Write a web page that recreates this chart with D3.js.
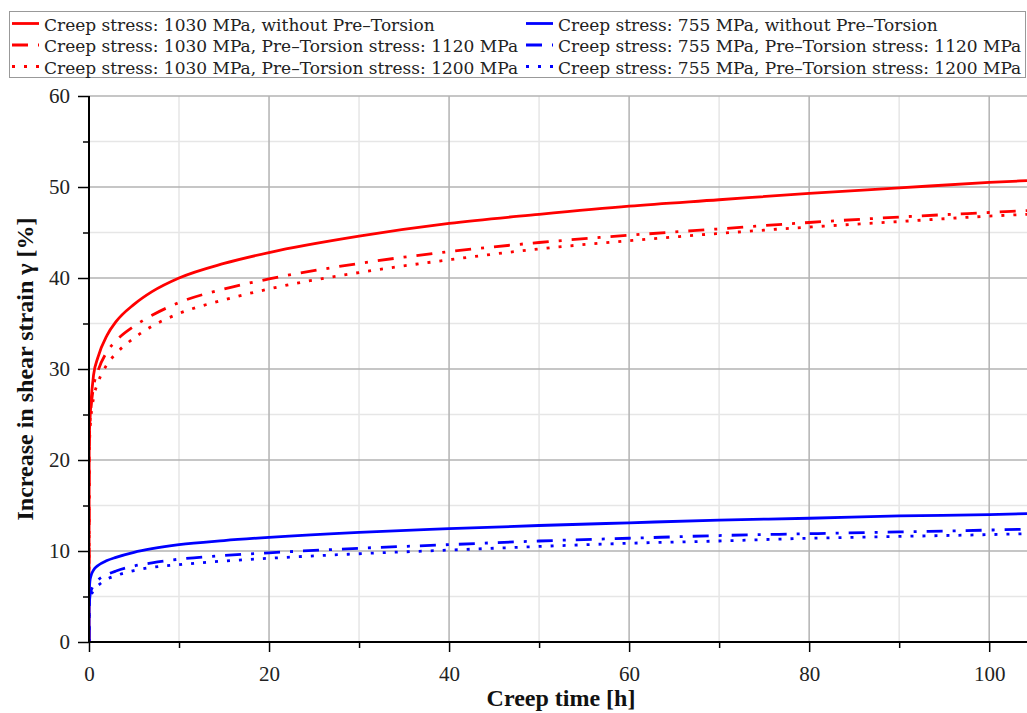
<!DOCTYPE html>
<html lang="en">
<head>
<meta charset="utf-8">
<title>Creep shear strain</title>
<script src="https://cdn.jsdelivr.net/npm/d3@7"></script>
<style>
  body { margin: 0; background: #fff; }
  svg { display: block; font-family: "Liberation Serif", "Times New Roman", serif; }
  .legendLabel { font-family: "DejaVu Serif", serif; font-size: 17px; fill: #222; }
  .axisTitle { font-size: 24px; font-weight: bold; fill: #111; }
</style>
</head>
<body>
<div id="chart"></div>
<script>
// creep time [h]
var times = [0, 0.02, 0.05, 0.1, 0.2, 0.5, 1, 2, 3, 5, 7, 10, 15, 20, 30, 40, 50, 60, 70, 80, 90, 100, 104.2];

// increase in shear strain [%]
var red_none  = [0, 21.4, 23.0, 24.2, 26.0, 29.3, 31.3, 33.7, 35.2, 37.1, 38.5, 40.0, 41.6, 42.8, 44.6, 46.0, 47.0, 47.9, 48.6, 49.3, 49.9, 50.5, 50.7];
var red_1120  = [0, 20.5, 22.5, 24.0, 25.5, 28.0, 29.8, 31.9, 33.1, 34.7, 35.9, 37.3, 38.8, 39.9, 41.6, 42.9, 43.9, 44.7, 45.4, 46.1, 46.7, 47.2, 47.4];
var red_1200  = [0, 19.5, 21.5, 23.0, 24.5, 26.8, 28.5, 30.5, 31.7, 33.4, 34.7, 36.1, 37.6, 38.8, 40.6, 42.0, 43.2, 44.1, 44.9, 45.6, 46.2, 46.8, 47.0];
var blue_none = [0, 5.0, 6.0, 6.7, 7.2, 7.9, 8.4, 8.95, 9.3, 9.85, 10.25, 10.7, 11.15, 11.5, 12.05, 12.45, 12.8, 13.1, 13.4, 13.6, 13.85, 14.0, 14.1];
var blue_1120 = [0, 3.8, 4.4, 5.0, 5.5, 6.2, 6.8, 7.4, 7.8, 8.35, 8.7, 9.1, 9.5, 9.8, 10.3, 10.7, 11.1, 11.4, 11.7, 11.9, 12.1, 12.3, 12.4];
var blue_1200 = [0, 3.6, 4.1, 4.6, 5.0, 5.7, 6.2, 6.9, 7.3, 7.85, 8.2, 8.5, 8.9, 9.2, 9.7, 10.1, 10.5, 10.85, 11.1, 11.4, 11.6, 11.8, 11.9];

var seriesNames = [
  "Creep stress: 1030 MPa, without Pre\u2013Torsion",
  "Creep stress: 1030 MPa, Pre\u2013Torsion stress: 1120 MPa",
  "Creep stress: 1030 MPa, Pre\u2013Torsion stress: 1200 MPa",
  "Creep stress: 755 MPa, without Pre\u2013Torsion",
  "Creep stress: 755 MPa, Pre\u2013Torsion stress: 1120 MPa",
  "Creep stress: 755 MPa, Pre\u2013Torsion stress: 1200 MPa"
];
var seriesValues = [red_none, red_1120, red_1200, blue_none, blue_1120, blue_1200];
var seriesColors = ["#ff0000", "#ff0000", "#ff0000", "#0000ff", "#0000ff", "#0000ff"];
var dashes = [null, "16,10,3,10", "3,9", null, "16,10,3,10", "3,9"];

var xMajor = [0, 20, 40, 60, 80, 100],
    xMinor = [10, 30, 50, 70, 90],
    yMajor = [0, 10, 20, 30, 40, 50, 60],
    yMinor = [5, 15, 25, 35, 45, 55];

var W = 1027, H = 713,
    plot = {left: 89, right: 1027, top: 96, bottom: 642};

var svg = d3.select("#chart").append("svg")
    .attr("width", W)
    .attr("height", H);

svg.append("rect").attr("width", W).attr("height", H).attr("fill", "#fff");

var x = d3.scaleLinear().domain([0, 104.2]).range([plot.left, plot.right]);
var y = d3.scaleLinear().domain([0, 60]).range([plot.bottom, plot.top]);

// grid
var grid = svg.append("g");
grid.selectAll("line.xmin").data(xMinor).enter().append("line")
    .attr("x1", d => x(d)).attr("x2", d => x(d))
    .attr("y1", plot.top).attr("y2", plot.bottom)
    .attr("stroke", "#e6e6e6").attr("stroke-width", 1.5);
grid.selectAll("line.ymin").data(yMinor).enter().append("line")
    .attr("y1", d => y(d)).attr("y2", d => y(d))
    .attr("x1", plot.left).attr("x2", plot.right)
    .attr("stroke", "#e6e6e6").attr("stroke-width", 1.5);
grid.selectAll("line.xmaj").data(xMajor.slice(1)).enter().append("line")
    .attr("x1", d => x(d)).attr("x2", d => x(d))
    .attr("y1", plot.top).attr("y2", plot.bottom)
    .attr("stroke", "#b3b3b3").attr("stroke-width", 1.5);
grid.selectAll("line.ymaj").data(yMajor.slice(1)).enter().append("line")
    .attr("y1", d => y(d)).attr("y2", d => y(d))
    .attr("x1", plot.left).attr("x2", plot.right)
    .attr("stroke", "#b3b3b3").attr("stroke-width", 1.5);

// curves
svg.append("clipPath").attr("id", "clip")
  .append("rect")
    .attr("x", plot.left).attr("y", plot.top - 5)
    .attr("width", plot.right - plot.left).attr("height", plot.bottom - plot.top + 5);

var line = d3.line()
    .x(d => x(d[0]))
    .y(d => y(d[1]))
    .curve(d3.curveMonotoneX);

var curves = svg.append("g").attr("clip-path", "url(#clip)");
seriesValues.forEach(function(vals, i) {
  var pts = times.map((t, j) => [t, vals[j]]);
  curves.append("path")
      .datum(pts)
      .attr("d", line)
      .attr("fill", "none")
      .attr("stroke", seriesColors[i])
      .attr("stroke-width", 2.8)
      .attr("stroke-dasharray", dashes[i]);
});

// axes
var xAxis = svg.append("g")
    .attr("transform", "translate(0," + plot.bottom + ")")
    .call(d3.axisBottom(x).tickValues(xMajor).tickSize(10).tickPadding(14));
xAxis.select(".domain").attr("d", "M" + plot.left + ",0H" + plot.right).attr("stroke-width", 2);
svg.append("g")
    .attr("transform", "translate(0," + plot.bottom + ")")
    .call(d3.axisBottom(x).tickValues(xMinor).tickSize(6).tickFormat(""))
    .select(".domain").remove();

var yAxis = svg.append("g")
    .attr("transform", "translate(" + plot.left + ",0)")
    .call(d3.axisLeft(y).tickValues(yMajor).tickSize(11).tickPadding(8));
yAxis.select(".domain").attr("d", "M0," + plot.top + "V" + plot.bottom).attr("stroke-width", 2);
svg.append("g")
    .attr("transform", "translate(" + plot.left + ",0)")
    .call(d3.axisLeft(y).tickValues(yMinor).tickSize(6).tickFormat(""))
    .select(".domain").remove();

[xAxis, yAxis].forEach(function(ax) {
  ax.attr("font-family", null).attr("font-size", null);
  ax.selectAll(".tick text")
    .style("font-family", "'Liberation Serif', 'Times New Roman', serif")
    .style("font-size", "21px")
    .attr("fill", "#222");
});

svg.selectAll(".tick line").attr("stroke", "#000").attr("stroke-width", 1.5);

// axis titles
svg.append("text")
    .attr("class", "axisTitle")
    .attr("x", 561).attr("y", 706)
    .attr("text-anchor", "middle")
    .text("Creep time [h]");

svg.append("text")
    .attr("class", "axisTitle")
    .attr("transform", "translate(33,369) rotate(-90)")
    .attr("text-anchor", "middle")
    .text("Increase in shear strain \u03b3 [%]");

// legend
var legend = svg.append("g");
legend.append("rect")
    .attr("x", 9.5).attr("y", 11.5)
    .attr("width", 1016).attr("height", 66)
    .attr("fill", "#fff")
    .attr("stroke", "#999").attr("stroke-width", 1);

seriesNames.forEach(function(name, i) {
  var col = Math.floor(i / 3), row = i % 3;
  var lx = col === 0 ? 12 : 526,
      ly = 23.5 + row * 21.5;
  legend.append("line")
      .attr("x1", lx).attr("x2", lx + 27)
      .attr("y1", ly).attr("y2", ly)
      .attr("stroke", seriesColors[i])
      .attr("stroke-width", 2.8)
      .attr("stroke-dasharray", dashes[i]);
  legend.append("text")
      .attr("class", "legendLabel")
      .attr("x", lx + 32).attr("y", ly + 7)
      .text(name);
});
</script>
</body>
</html>
